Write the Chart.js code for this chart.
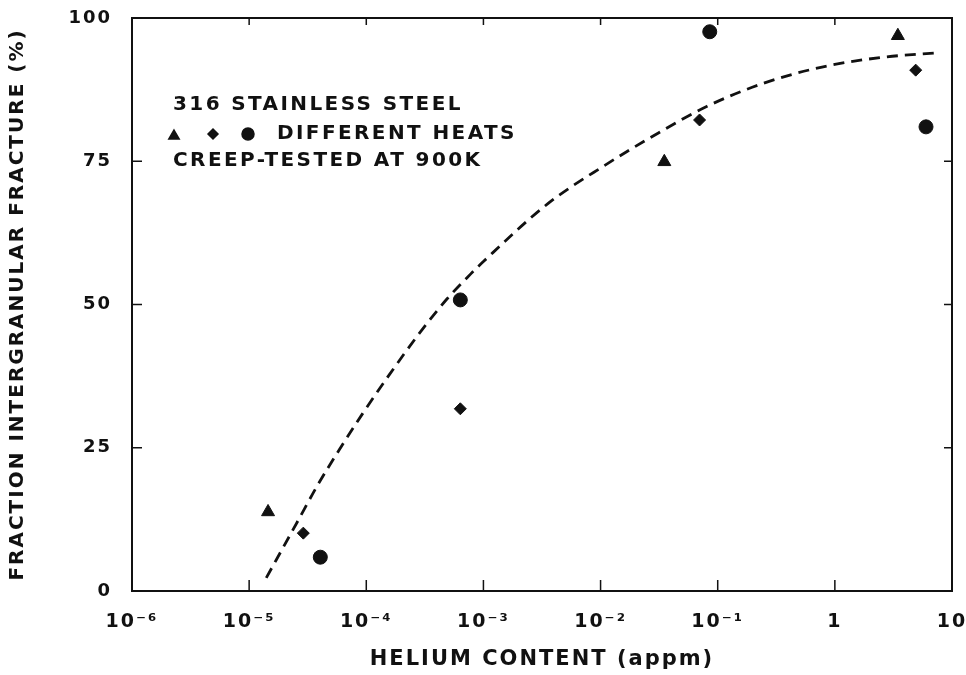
<!DOCTYPE html>
<html>
<head>
<meta charset="utf-8">
<script src="https://cdn.jsdelivr.net/npm/chart.js@4/dist/chart.umd.min.js"></script>
<style>
  html, body { margin: 0; padding: 0; background: #fff; }
  #wrap { width: 966px; height: 675px; }
</style>
</head>
<body>
<div id="wrap"><canvas id="c" width="966" height="675"></canvas></div>
<script>
// ---- data ----
const xTickValues = [1e-6, 1e-5, 1e-4, 1e-3, 1e-2, 1e-1, 1, 10];
const xTickLabels = ['10\u207B\u2076', '10\u207B\u2075', '10\u207B\u2074', '10\u207B\u00B3', '10\u207B\u00B2', '10\u207B\u00B9', '1', '10'];
const yTickValues = [0, 25, 50, 75, 100];

const triangleX = [1.45e-5, 0.035, 3.45];
const triangleY = [13.8, 74.9, 96.9];
const diamondX = [2.9e-5, 6.35e-4, 0.070, 4.9];
const diamondY = [10.1, 31.8, 82.2, 90.9];
const circleX = [4.05e-5, 6.35e-4, 0.0855, 6.0];
const circleY = [5.9, 50.8, 97.6, 81.0];

const curveX = [1.4e-5, 2.57e-5, 3.80e-5, 6.03e-5, 9.33e-5, 1.58e-4, 2.75e-4, 4.90e-4, 7.76e-4, 1.0e-3, 3.55e-3, 1.07e-2, 3.09e-2, 8.13e-2, 0.245, 0.759, 2.45, 7.24];
const curveY = [2.3, 12.0, 18.3, 25.0, 31.0, 37.8, 44.6, 51.0, 55.3, 57.5, 67.6, 74.2, 79.9, 84.6, 88.6, 91.4, 93.1, 93.9];

const annotationLines = ['316 STAINLESS STEEL', 'DIFFERENT HEATS', 'CREEP-TESTED AT 900K'];
const xTitle = 'HELIUM CONTENT (appm)';
const yTitle = 'FRACTION INTERGRANULAR FRACTURE (%)';

const zip = (xs, ys) => xs.map((x, i) => ({ x: x, y: ys[i] }));
const INK = '#111';
const FONT = "'DejaVu Sans', sans-serif";

const framePlugin = {
  id: 'frame',
  beforeDraw(chart) {
    chart.ctx.letterSpacing = '2px';
  },
  afterDraw(chart) {
    const ctx = chart.ctx;
    const a = chart.chartArea;
    const xs = chart.scales.x, ys = chart.scales.y;
    ctx.save();
    ctx.letterSpacing = '0px';
    ctx.strokeStyle = INK;
    ctx.lineWidth = 2;
    ctx.strokeRect(a.left, a.top, a.right - a.left, a.bottom - a.top);
    ctx.lineWidth = 1.5;
    // inward ticks
    xTickValues.forEach(v => {
      const px = xs.getPixelForValue(v);
      ctx.beginPath();
      ctx.moveTo(px, a.bottom); ctx.lineTo(px, a.bottom - 11);
      ctx.moveTo(px, a.top); ctx.lineTo(px, a.top + 7);
      ctx.stroke();
    });
    yTickValues.forEach(v => {
      const py = ys.getPixelForValue(v);
      ctx.beginPath();
      ctx.moveTo(a.left, py); ctx.lineTo(a.left + 10, py);
      ctx.moveTo(a.right, py); ctx.lineTo(a.right - 8, py);
      ctx.stroke();
    });
    // annotation
    ctx.fillStyle = INK;
    ctx.font = 'bold 20px ' + FONT;
    ctx.letterSpacing = '2.4px';
    ctx.textBaseline = 'middle';
    ctx.textAlign = 'left';
    ctx.fillText(annotationLines[0], 173, 105);
    ctx.fillText(annotationLines[1], 277, 134);
    ctx.fillText(annotationLines[2], 173, 161);
    const H = Chart.helpers;
    H.drawPoint(ctx, { pointStyle: 'triangle', radius: 6, rotation: 0, borderWidth: 1 }, 174, 136);
    H.drawPoint(ctx, { pointStyle: 'rectRot', radius: 5, rotation: 0, borderWidth: 1 }, 213, 134);
    H.drawPoint(ctx, { pointStyle: 'circle', radius: 6, rotation: 0, borderWidth: 1 }, 248, 134);
    ctx.restore();
    ctx.letterSpacing = '0px';
  }
};

new Chart(document.getElementById('c'), {
  type: 'scatter',
  data: {
    datasets: [
      {
        type: 'line', label: 'fit', data: zip(curveX, curveY),
        borderColor: INK, borderWidth: 2.8, borderDash: [11, 7],
        pointRadius: 0, fill: false, cubicInterpolationMode: 'monotone'
      },
      {
        label: 'heat A', data: zip(triangleX, triangleY), pointStyle: 'triangle',
        pointRadius: 7.5, backgroundColor: INK, borderColor: INK, borderWidth: 1
      },
      {
        label: 'heat B', data: zip(diamondX, diamondY), pointStyle: 'rectRot',
        pointRadius: 6, backgroundColor: INK, borderColor: INK, borderWidth: 1
      },
      {
        label: 'heat C', data: zip(circleX, circleY), pointStyle: 'circle',
        pointRadius: 7, backgroundColor: INK, borderColor: INK, borderWidth: 1
      }
    ]
  },
  options: {
    responsive: false,
    animation: false,
    layout: { padding: { left: 0, top: 18, right: 14, bottom: 0 } },
    plugins: { legend: { display: false }, tooltip: { enabled: false } },
    scales: {
      x: {
        type: 'logarithmic', min: 1e-6, max: 10,
        afterBuildTicks(scale) { scale.ticks = xTickValues.map(v => ({ value: v })); },
        afterFit(scale) {
          scale.height = 84;
          scale.paddingLeft = 0; scale.paddingRight = 0;
        },
        grid: { display: false },
        border: { display: false },
        ticks: {
          autoSkip: false, maxRotation: 0, padding: 12, color: INK,
          font: { family: FONT, size: 19, weight: 'bold' },
          callback(value) {
            const i = xTickValues.findIndex(t => Math.abs(Math.log10(t) - Math.log10(value)) < 1e-6);
            return i >= 0 ? xTickLabels[i] : '';
          }
        },
        title: {
          display: true, text: xTitle, color: INK,
          font: { family: FONT, size: 21, weight: 'bold' },
          padding: { top: 0, bottom: 3 }
        }
      },
      y: {
        min: 0, max: 100,
        afterBuildTicks(scale) { scale.ticks = yTickValues.map(v => ({ value: v })); },
        afterFit(scale) {
          scale.width = 132;
          scale.paddingTop = 0; scale.paddingBottom = 0;
        },
        grid: { display: false },
        border: { display: false },
        ticks: {
          padding: 12, color: INK,
          font: { family: FONT, size: 18, weight: 'bold' }
        },
        title: {
          display: true, text: yTitle, color: INK,
          font: { family: FONT, size: 20, weight: 'bold' },
          padding: { top: 6, bottom: 0 }
        }
      }
    }
  },
  plugins: [framePlugin]
});
</script>
</body>
</html>
